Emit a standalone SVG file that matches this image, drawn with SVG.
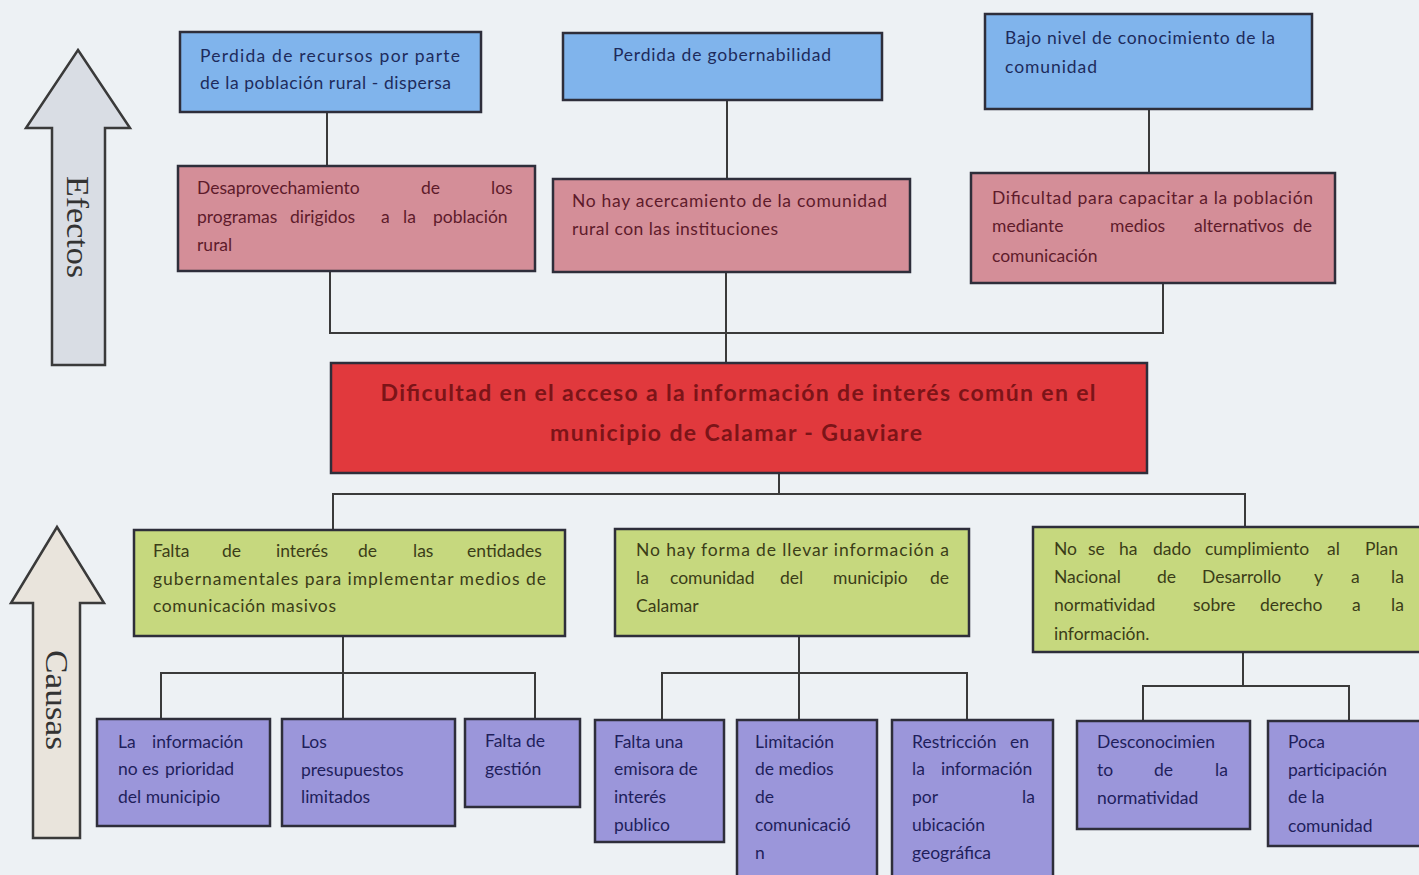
<svg xmlns="http://www.w3.org/2000/svg" width="1419" height="875" viewBox="0 0 1419 875">
<defs>
<style>
.bg{fill:#edf1f4}
.box{stroke:#2e2e3a;stroke-width:2.5}
.blue{fill:#80b4ec}
.pink{fill:#d48e98}
.red{fill:#e1393d}
.green{fill:#c6d87e}
.purple{fill:#9b96da}
.t{font-family:Lato,"Liberation Sans",sans-serif;font-size:17.5px}
.tb{fill:#1d2b5c}
.tp{fill:#5e1b2b}
.tg{fill:#3b3d18}
.tu{fill:#1f1f5c}
.tr{font-family:Lato,"Liberation Sans",sans-serif;font-size:23px;font-weight:bold;fill:#7c1418}
.con{fill:none;stroke:#3a3a3a;stroke-width:2}
.arrow{stroke:#3a3a3a;stroke-width:2.5}
.lbl{font-family:"Liberation Serif",serif;font-size:32px;fill:#333}
</style>
</defs>
<rect class="bg" x="0" y="0" width="1419" height="875"/>

<g id="arrow-efectos">
<polygon class="arrow" fill="#d9dde4" points="78,50 130,128 105,128 105,365 52,365 52,128 26,128"/>
<text class="lbl" transform="translate(78,227) rotate(90)" text-anchor="middle" dominant-baseline="central" textLength="102" lengthAdjust="spacingAndGlyphs">Efectos</text>
</g>
<g id="arrow-causas">
<polygon class="arrow" fill="#e9e4dc" points="57,527 104,603 80,603 80,838 33,838 33,603 11,603"/>
<text class="lbl" transform="translate(57,700) rotate(90)" text-anchor="middle" dominant-baseline="central" textLength="100" lengthAdjust="spacingAndGlyphs">Causas</text>
</g>

<g id="connectors">
<path class="con" d="M327,112V166M727,100V179M1149,109V173"/>
<path class="con" d="M330,271V333H1163V283M726,272V363"/>
<path class="con" d="M779,473V494M333,530V494H1245V529"/>
<path class="con" d="M343,636V719M161,719V673H535V719"/>
<path class="con" d="M799,636V720M662,720V673H967V720"/>
<path class="con" d="M1243,652V686M1143,721V686H1349V721"/>
</g>

<g id="e1">
<rect class="box blue" x="180" y="32" width="301" height="80"/>
<text class="t tb"><tspan x="200" y="62" textLength="260">Perdida de recursos por parte</tspan><tspan x="200" y="89" textLength="251">de la población rural - dispersa</tspan></text>
</g>
<g id="e2">
<rect class="box blue" x="563" y="33" width="319" height="67"/>
<text class="t tb"><tspan x="613" y="61" textLength="218">Perdida de gobernabilidad</tspan></text>
</g>
<g id="e3">
<rect class="box blue" x="985" y="14" width="327" height="95"/>
<text class="t tb"><tspan x="1005" y="44" textLength="270">Bajo nivel de conocimiento de la</tspan><tspan x="1005" y="73" textLength="92">comunidad</tspan></text>
</g>

<g id="d1">
<rect class="box pink" x="178" y="166" width="357" height="105"/>
<text class="t tp"><tspan x="197" y="194">Desaprovechamiento</tspan><tspan x="421" y="194">de</tspan><tspan x="491" y="194">los</tspan><tspan x="197" y="223">programas</tspan><tspan x="290" y="223">dirigidos</tspan><tspan x="381" y="223">a</tspan><tspan x="403" y="223">la</tspan><tspan x="433" y="223">población</tspan><tspan x="197" y="251">rural</tspan></text>
</g>
<g id="d2">
<rect class="box pink" x="553" y="179" width="357" height="93"/>
<text class="t tp"><tspan x="572" y="207" textLength="315">No hay acercamiento de la comunidad</tspan><tspan x="572" y="235" textLength="206">rural con las instituciones</tspan></text>
</g>
<g id="d3">
<rect class="box pink" x="971" y="173" width="364" height="110"/>
<text class="t tp"><tspan x="992" y="204" textLength="321">Dificultad para capacitar a la población</tspan><tspan x="992" y="232">mediante</tspan><tspan x="1110" y="232">medios</tspan><tspan x="1194" y="232">alternativos</tspan><tspan x="1293" y="232">de</tspan><tspan x="992" y="262">comunicación</tspan></text>
</g>

<g id="problema">
<rect class="box red" x="331" y="363" width="816" height="110"/>
<text class="tr" text-anchor="middle"><tspan x="738" y="401" textLength="715">Dificultad en el acceso a la información de interés común en el</tspan><tspan x="736" y="441" textLength="372">municipio de Calamar - Guaviare</tspan></text>
</g>

<g id="c1">
<rect class="box green" x="134" y="530" width="431" height="106"/>
<text class="t tg"><tspan x="153" y="557">Falta</tspan><tspan x="222" y="557">de</tspan><tspan x="276" y="557">interés</tspan><tspan x="358" y="557">de</tspan><tspan x="413" y="557">las</tspan><tspan x="467" y="557">entidades</tspan><tspan x="153" y="585" textLength="393">gubernamentales para implementar medios de</tspan><tspan x="153" y="612" textLength="183">comunicación masivos</tspan></text>
</g>
<g id="c2">
<rect class="box green" x="615" y="529" width="354" height="107"/>
<text class="t tg"><tspan x="636" y="556" textLength="313">No hay forma de llevar información a</tspan><tspan x="636" y="584">la</tspan><tspan x="670" y="584">comunidad</tspan><tspan x="780" y="584">del</tspan><tspan x="833" y="584">municipio</tspan><tspan x="930" y="584">de</tspan><tspan x="636" y="612">Calamar</tspan></text>
</g>
<g id="c3">
<rect class="box green" x="1033" y="527" width="392" height="125"/>
<text class="t tg"><tspan x="1054" y="555">No</tspan><tspan x="1088" y="555">se</tspan><tspan x="1119" y="555">ha</tspan><tspan x="1153" y="555">dado</tspan><tspan x="1205" y="555">cumplimiento</tspan><tspan x="1327" y="555">al</tspan><tspan x="1365" y="555">Plan</tspan><tspan x="1054" y="583">Nacional</tspan><tspan x="1157" y="583">de</tspan><tspan x="1202" y="583">Desarrollo</tspan><tspan x="1314" y="583">y</tspan><tspan x="1351" y="583">a</tspan><tspan x="1391" y="583">la</tspan><tspan x="1054" y="611">normatividad</tspan><tspan x="1193" y="611">sobre</tspan><tspan x="1260" y="611">derecho</tspan><tspan x="1352" y="611">a</tspan><tspan x="1391" y="611">la</tspan><tspan x="1054" y="640">información.</tspan></text>
</g>

<g id="s1">
<rect class="box purple" x="97" y="719" width="173" height="107"/>
<text class="t tu"><tspan x="118" y="748">La</tspan><tspan x="152" y="748">información</tspan><tspan x="118" y="775">no</tspan><tspan x="142" y="775">es</tspan><tspan x="165" y="775">prioridad</tspan><tspan x="118" y="803">del municipio</tspan></text>
</g>
<g id="s2">
<rect class="box purple" x="282" y="719" width="173" height="107"/>
<text class="t tu"><tspan x="301" y="748">Los</tspan><tspan x="301" y="776">presupuestos</tspan><tspan x="301" y="803">limitados</tspan></text>
</g>
<g id="s3">
<rect class="box purple" x="465" y="719" width="115" height="88"/>
<text class="t tu"><tspan x="485" y="747">Falta de</tspan><tspan x="485" y="775">gestión</tspan></text>
</g>
<g id="s4">
<rect class="box purple" x="595" y="720" width="129" height="122"/>
<text class="t tu"><tspan x="614" y="748">Falta una</tspan><tspan x="614" y="775">emisora de</tspan><tspan x="614" y="803">interés</tspan><tspan x="614" y="831">publico</tspan></text>
</g>
<g id="s5">
<rect class="box purple" x="737" y="720" width="140" height="160"/>
<text class="t tu"><tspan x="755" y="748">Limitación</tspan><tspan x="755" y="775">de medios</tspan><tspan x="755" y="803">de</tspan><tspan x="755" y="831">comunicació</tspan><tspan x="755" y="859">n</tspan></text>
</g>
<g id="s6">
<rect class="box purple" x="892" y="720" width="161" height="160"/>
<text class="t tu"><tspan x="912" y="748">Restricción</tspan><tspan x="1010" y="748">en</tspan><tspan x="912" y="775">la</tspan><tspan x="941" y="775">información</tspan><tspan x="912" y="803">por</tspan><tspan x="1022" y="803">la</tspan><tspan x="912" y="831">ubicación</tspan><tspan x="912" y="859">geográfica</tspan></text>
</g>
<g id="s7">
<rect class="box purple" x="1077" y="721" width="173" height="108"/>
<text class="t tu"><tspan x="1097" y="748">Desconocimien</tspan><tspan x="1097" y="776">to</tspan><tspan x="1154" y="776">de</tspan><tspan x="1215" y="776">la</tspan><tspan x="1097" y="804">normatividad</tspan></text>
</g>
<g id="s8">
<rect class="box purple" x="1268" y="721" width="160" height="125"/>
<text class="t tu"><tspan x="1288" y="748">Poca</tspan><tspan x="1288" y="776">participación</tspan><tspan x="1288" y="803">de la</tspan><tspan x="1288" y="832">comunidad</tspan></text>
</g>
</svg>
